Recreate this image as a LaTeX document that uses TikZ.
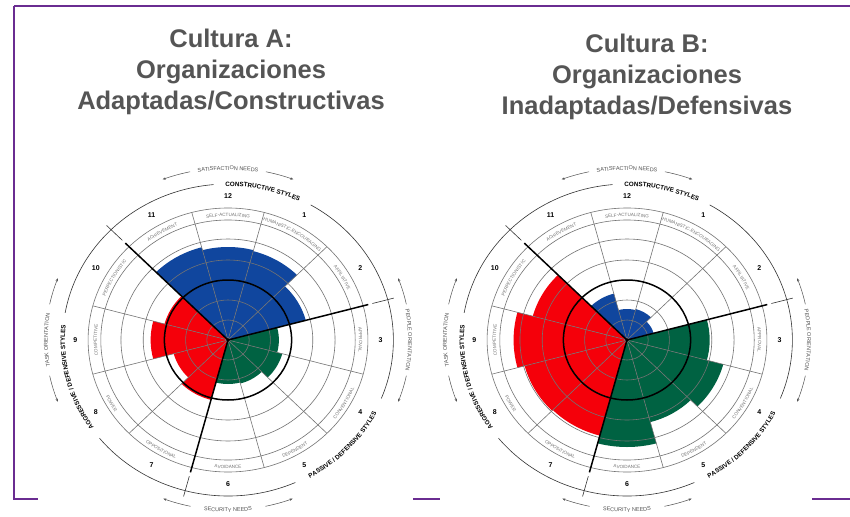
\documentclass[tikz,border=0pt]{standalone}
\usepackage{fontspec}
\setmainfont{Liberation Sans}
\usetikzlibrary{decorations.text,arrows.meta}

\definecolor{framepurple}{RGB}{106,44,145}
\definecolor{titlegray}{RGB}{85,85,85}
\definecolor{conblue}{RGB}{16,70,158}
\definecolor{aggred}{RGB}{245,0,10}
\definecolor{pasgreen}{RGB}{0,98,66}
\definecolor{gridgray}{RGB}{115,115,115}
\definecolor{needgray}{RGB}{80,80,80}

\tikzset{
  frameline/.style={framepurple,line width=2pt},
  titletext/.style={align=center,text=titlegray,font=\fontsize{25.5}{31}\selectfont\bfseries},
  gridline/.style={gridgray,line width=0.6pt},
  boldline/.style={black,line width=1.5pt},
  ringline/.style={black!80,line width=0.6pt},
  needarrow/.style={needgray,line width=0.5pt,-{Stealth[length=3pt,width=2.4pt]}},
  numlabel/.style={inner sep=0pt,font=\fontsize{7}{7}\selectfont\bfseries},
}
\newcommand\segfont{\fontsize{4.6}{5}\selectfont}
\newcommand\stylefont{\fontsize{6.3}{7}\selectfont\bfseries}
\newcommand\needfont{\fontsize{5.5}{6}\selectfont}

% text along an arc: from angle, to angle, radius, text, decoration options
\newcommand\arctext[5]{%
  \path[decorate,decoration={text along path,text align=center,#5,text/.expand once={#4}}]
    (#1:#3) arc[start angle=#1,end angle=#2,radius=#3];}

% one circumplex: centre, list seg/radius/colour
\newcommand\wheel[2]{%
\begin{scope}[shift={(#1)},x=1.06pt,y=1pt]
  \foreach \seg/\rad/\col in {#2}{
    \pgfmathsetmacro\angA{105-30*\seg}
    \pgfmathsetmacro\angB{75-30*\seg}
    \fill[\col] (0,0) -- (\angA:\rad) arc[start angle=\angA,end angle=\angB,radius=\rad] -- cycle;
  }
  \foreach \rad in {20,40,80,101,120,132}
    \draw[gridline] (0,0) circle[radius=\rad];
  \foreach \ang in {45,75,105,165,195,225,285,315,345}
    \draw[gridline] (0,0) -- (\ang:132);
  \draw[boldline] (0,0) circle[radius=60];
  \foreach \ang in {15,135,255}{
    \draw[boldline] (0,0) -- (\ang:137);
    \draw[ringline] (\ang:141) -- (\ang:162);
  }
  \fill (0,0) circle[radius=1.8];
  % segment names in the ring
  \foreach \seg/\segname/\dir in {1/HUMANISTIC-ENCOURAGING/1, 2/AFFILIATIVE/1, 3/APPROVAL/1,
      4/CONVENTIONAL/-1, 5/DEPENDENT/-1, 6/AVOIDANCE/-1, 7/OPPOSITIONAL/-1, 8/POWER/-1,
      9/COMPETITIVE/1, 10/PERFECTIONISTIC/1, 11/ACHIEVEMENT/1, 12/SELF-ACTUALIZING/1}{
    \pgfmathsetmacro\angA{90-30*\seg+15*\dir}
    \pgfmathsetmacro\angB{90-30*\seg-15*\dir}
    \pgfmathsetmacro\rad{126.1-2.5*\dir}
    \edef\tmptext{|\noexpand\segfont|\segname}
    \arctext{\angA}{\angB}{\rad}{\tmptext}{text color=gridgray}
  }
  \foreach \seg in {1,...,12}
    \node[numlabel] at ({90-30*\seg}:144) {\seg};
  % style arcs
  \draw[ringline] (95:156) arc[start angle=95,end angle=170,radius=156];
  \draw[ringline] (219:156) arc[start angle=219,end angle=294,radius=156];
  \draw[ringline] (-22:156) arc[start angle=-22,end angle=60,radius=156];
  \arctext{97}{58}{153.8}{|\stylefont|CONSTRUCTIVE STYLES}{}
  \arctext{292}{340}{158.2}{|\stylefont|PASSIVE / DEFENSIVE STYLES}{}
  \arctext{221}{168}{153.8}{|\stylefont|AGGRESSIVE / DEFENSIVE STYLES}{}
  % need / orientation arrows
  \foreach \mid in {90,0,180}{
    \pgfmathsetmacro\angA{\mid+12}
    \pgfmathsetmacro\angB{\mid+21}
    \draw[needarrow] (\angA:172) arc[start angle=\angA,end angle=\angB,radius=172];
    \pgfmathsetmacro\angA{\mid-12}
    \pgfmathsetmacro\angB{\mid-21}
    \draw[needarrow] (\angA:172) arc[start angle=\angA,end angle=\angB,radius=172];
  }
  \draw[needarrow] (258:170) arc[start angle=258,end angle=249,radius=170];
  \draw[needarrow] (282:170) arc[start angle=282,end angle=291,radius=170];
  \arctext{103}{77}{170}{|\needfont|SATISFACTION NEEDS}{text color=needgray}
  \arctext{13}{-13}{170}{|\needfont|PEOPLE ORIENTATION}{text color=needgray}
  \arctext{193}{167}{170}{|\needfont|TASK ORIENTATION}{text color=needgray}
  \arctext{257}{283}{172}{|\needfont|SECURITY NEEDS}{text color=needgray}
\end{scope}}

\begin{document}
\begin{tikzpicture}[x=1pt,y=1pt]
\useasboundingbox (0,0) rectangle (850,-516);
\fill[white] (0,0) rectangle (850,-516);
% frame
\draw[frameline] (14,-6) -- (850,-6);
\draw[frameline] (14,-6) -- (14,-499) -- (38,-499);
\draw[frameline] (413,-499) -- (440,-499);
\draw[frameline] (812,-499) -- (850,-499);
% titles
\node[titletext] (titleA) at (231,-72) {Cultura A:\\Organizaciones\\Adaptadas/Constructivas};
\node[titletext] (titleB) at (647,-77) {Cultura B:\\Organizaciones\\Inadaptadas/Defensivas};
% wheels
\coordinate (cA) at (228,-340);
\coordinate (cB) at (627,-340);
\wheel{cA}{1/92/conblue, 2/76/conblue, 3/48/pasgreen, 4/53/pasgreen, 5/45/pasgreen, 6/44/pasgreen,
  7/62/aggred, 8/53/aggred, 9/73/aggred, 10/62/aggred, 11/96/conblue, 12/93/conblue}
\wheel{cB}{1/32/conblue, 2/26/conblue, 3/78/pasgreen, 4/94/pasgreen, 5/85/pasgreen, 6/107/pasgreen,
  7/99/aggred, 8/100/aggred, 9/107/aggred, 10/92/aggred, 11/48/conblue, 12/31/conblue}
\end{tikzpicture}
\end{document}
